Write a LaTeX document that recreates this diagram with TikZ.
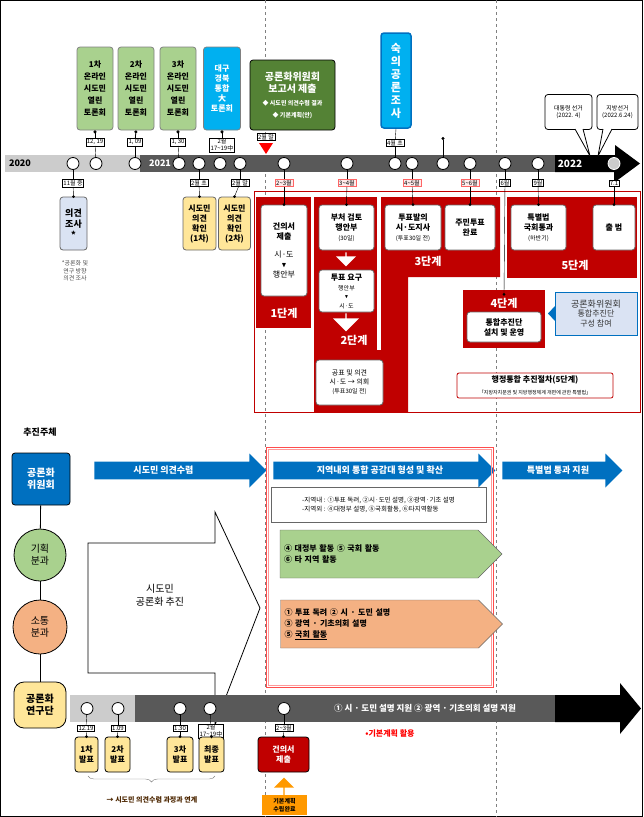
\documentclass[tikz,border=0pt]{standalone}
\usepackage{amssymb}
\usepackage{fontspec}
\setmainfont{Noto Sans CJK KR}
\usetikzlibrary{arrows.meta,shapes,positioning,decorations.pathreplacing}
\definecolor{gbox}{HTML}{A9D18E}
\definecolor{dgreen}{HTML}{548235}
\definecolor{sky}{HTML}{00B0F0}
\definecolor{lblue}{HTML}{DAE3F3}
\definecolor{ybox}{HTML}{FFE699}
\definecolor{stred}{HTML}{C00000}
\definecolor{mblue}{HTML}{0070C0}
\definecolor{orng}{HTML}{F4B183}
\definecolor{bargray}{HTML}{595959}
\tikzset{box/.style={draw, thick, rounded corners=3pt, align=center, inner sep=1pt, font=\bfseries\fontsize{8}{10}\selectfont},
	wbox/.style={box, fill=white, draw=black!60},
	tag/.style={draw, fill=white, inner sep=1pt, font=\fontsize{6}{7}\selectfont, align=center},
	rtag/.style={tag, draw=red!60, fill=red!8},
	dot/.style={draw, thick, fill=white, circle, minimum size=12pt, inner sep=0pt},
	pin/.style={thick, {Circle[length=3pt]}-},
	stage/.style={fill=stred, draw=none},
	stlabel/.style={text=white, font=\bfseries\fontsize{11}{12}\selectfont},
	barrow/.style={single arrow, fill=mblue, text=white, single arrow head extend=5pt, minimum height=#1, minimum width=34pt, font=\bfseries\fontsize{9}{10}\selectfont, inner sep=1pt},
	penta/.style={signal, signal to=east, draw=black!60, align=left, font=\bfseries\fontsize{8}{11}\selectfont, inner sep=4pt}}
\begin{document}
\begin{tikzpicture}[x=1pt,y=-1pt]
	\useasboundingbox (0,0) rectangle (643,817);
	\draw[black] (0.5,0.5) rectangle (642.5,816.5);
	% dashed guides
	\draw[dashed, gray] (265,0) -- (265,817);
	\draw[dashed, gray] (496,0) -- (496,817);
	% top timeline
	\fill[black!20] (5,155) rectangle (140,172);
	\fill[bargray] (140,155) rectangle (555,172);
	\fill[black] (555,155) -- (615,155) -- (615,145) -- (640,163.5) -- (615,182) -- (615,172) -- (555,172) -- cycle;
	\node[font=\bfseries\fontsize{9}{10}\selectfont] at (20,163.5) {2020};
	\node[text=white, font=\bfseries\fontsize{9}{10}\selectfont] at (160,163.5) {2021};
	\node[text=white, font=\bfseries\fontsize{10}{10}\selectfont] at (570,163.5) {2022};
	\foreach \n/\x in {a/73,b/96,c/135,d/179,e/199,f/220,g/240,h/284,i/347,j/395,k/412,l/443,m/470,n/505,o/538}
		\node[dot] (t\n) at (\x,163.5) {};
	\node[dot, fill=black!20, draw=white] (tp) at (614,163.5) {};
	% upper boxes
	\node[box, fill=gbox, draw=black!50, minimum width=36, minimum height=83] (on1) at (95,88.5) {1차\\[2pt]온라인\\[2pt]시도민\\[2pt]열린\\[2pt]토론회};
	\node[box, fill=gbox, draw=black!50, minimum width=36, minimum height=83] (on2) at (136,88.5) {2차\\[2pt]온라인\\[2pt]시도민\\[2pt]열린\\[2pt]토론회};
	\node[box, fill=gbox, draw=black!50, minimum width=36, minimum height=83] (on3) at (178,88.5) {3차\\[2pt]온라인\\[2pt]시도민\\[2pt]열린\\[2pt]토론회};
	\node[box, fill=sky, draw=black!50, text=white, minimum width=37, minimum height=83] (big) at (222,88.5) {대구\\경북\\통합\\大\\토론회};
	\node[tag] (d1) at (95,142) {12, 19};
	\node[tag] (d2) at (135,142) {1, 09};
	\node[tag] (d3) at (178,142) {1, 30};
	\node[tag] (d4) at (222,145) {2월\\17\textasciitilde19中};
	\draw[pin] (on1.south) -- (d1); \draw (d1) -- (tb);
	\draw[pin] (on2.south) -- (d2); \draw (d2) -- (tc);
	\draw[pin] (on3.south) -- (d3); \draw (d3) -- (td);
	\draw[pin] (big.south) -- (d4);
	\node[box, fill=dgreen, text=white, draw=black, minimum width=85, minimum height=70, font=\bfseries\fontsize{10}{12}\selectfont] (rep) at (292.5,95) {공론화위원회\\보고서 제출\\[1pt]\fontsize{6}{7}\selectfont ◆ 시도민 의견수렴 결과\\\fontsize{6}{7}\selectfont ◆ 기본계획(안)};
	\node[tag] (d5) at (266,137) {2월 말};
	\fill[red] (259,143) -- (273,143) -- (266,154) -- cycle;
	\node[box, fill=sky, text=white, draw=mblue, line width=1.5pt, minimum width=30, minimum height=95, font=\bfseries\fontsize{11}{13}\selectfont] (sug) at (396,80.5) {숙\\의\\공\\론\\조\\사};
	\node[tag] (d6) at (395,143) {4월 초};
	\draw (sug.south) -- (d6); \draw (d6) -- (tj);
	\coordinate (pintop) at (443,137);
	\draw[pin] (pintop) -- (tl);
	\node[box, fill=white, draw=black, font=\fontsize{6}{7}\selectfont, minimum width=47, minimum height=35] (pres) at (568.5,112) {대통령 선거\\(2022. 4)};
	\node[box, fill=white, draw=black, font=\fontsize{6}{7}\selectfont, minimum width=41, minimum height=35] (loc) at (617.5,112) {지방선거\\(2022.6.24)};
	\draw[thick, fill=white] (575,129) -- (590,156) -- (583,129);
	\draw[thick, fill=white] (603,129) -- (598,156) -- (612,129);
	% lower tags
	\node[tag] (l1) at (73,183) {11월 중};
	\node[tag] (l2) at (199,183) {2월 초};
	\node[tag] (l3) at (240,183) {2월 말};
	\node[rtag] (l4) at (284,183) {2\textasciitilde3월};
	\node[rtag] (l5) at (347,183) {3\textasciitilde4월};
	\node[rtag] (l6) at (412,183) {4\textasciitilde5월};
	\node[rtag] (l7) at (470,183) {5\textasciitilde6월};
	\node[tag] (l8) at (505,183) {6월};
	\node[tag] (l9) at (538,183) {9월};
	\node[tag] (l10) at (614,183) {7.1};
	\node[box, fill=lblue, draw=black!60, minimum width=27, minimum height=53, font=\bfseries\fontsize{9}{11}\selectfont] (opin) at (73.5,223.5) {의견\\조사\\*};
	\node[align=center, font=\fontsize{6}{7.5}\selectfont, text=black!70] (note) at (75,271) {*공론화 및\\연구 방향\\의견 조사};
	\node[box, fill=ybox, draw=black!60, minimum width=33, minimum height=53] (chk1) at (199.5,223.5) {시도민\\의견\\확인\\(1차)};
	\node[box, fill=ybox, draw=black!60, minimum width=32, minimum height=53] (chk2) at (234.5,223.5) {시도민\\의견\\확인\\(2차)};
	% stage area
	\draw[stred, thick] (254,191) rectangle (640,412);
	\fill[stage] (256,197) rectangle (311,328);
	\fill[stage] (314,197) rectangle (377,350);
	\fill[stage] (314,350) rectangle (408,412);
	\fill[stage] (381,197) -- (500,197) -- (500,277) -- (408,277) -- (408,412) -- (381,412) -- cycle;
	\fill[stage] (463,290) rectangle (545,348);
	\fill[stage] (507,197) rectangle (637,278);
	\node[wbox, minimum width=46, minimum height=91] (s1) at (284,250.5) {건의서\\제출\\[8pt]\mdseries 시·도\\\scriptsize$\blacktriangledown$\\\mdseries 행안부};
	\node[stlabel] at (284,313) {1단계};
	\node[wbox, minimum width=55, minimum height=45] (s2a) at (346.5,227.5) {부처 검토\\행안부\\\mdseries\fontsize{6}{7}\selectfont(30일)};
	\node[wbox, minimum width=55, minimum height=42] (s2b) at (346.5,291) {투표 요구\\\mdseries\fontsize{6}{7}\selectfont 행안부\\[-2pt]\tiny$\blacktriangledown$\\\mdseries\fontsize{6}{7}\selectfont 시·도};
	\node[single arrow, shape border rotate=270, fill=white, minimum height=14, minimum width=20, inner sep=0pt, single arrow head extend=3pt] (ar1) at (346,259) {};
	\node[single arrow, shape border rotate=270, fill=white, minimum height=18, minimum width=26, inner sep=0pt, single arrow head extend=4pt] (ar2) at (346,322) {};
	\node[stlabel] at (354,340) {2단계};
	\node[wbox, font=\fontsize{7}{9}\selectfont, minimum width=67, minimum height=45] (pub) at (349.5,382.5) {공표 및 의견\\시·도 → 의회\\\fontsize{6}{7}\selectfont(투표30일 전)};
	\node[wbox, minimum width=56, minimum height=45] (s3a) at (413,227.5) {투표발의\\시·도지사\\\mdseries\fontsize{6}{7}\selectfont(투표30일 전)};
	\node[wbox, minimum width=50, minimum height=45] (s3b) at (470,227.5) {주민투표\\완료};
	\node[stlabel] at (428,261) {3단계};
	\node[stlabel] (st4) at (504,303) {4단계};
	\node[wbox, minimum width=74, minimum height=30] (s4) at (504,327) {통합추진단\\설치 및 운영};
	\node[wbox, minimum width=55, minimum height=45] (s5a) at (538.5,227.5) {특별법\\국회통과\\\mdseries\fontsize{6}{7}\selectfont(하반기)};
	\node[wbox, minimum width=42, minimum height=45] (s5b) at (614,227.5) {출 범};
	\node[stlabel] at (575,265) {5단계};
	\draw[thick, mblue, fill=lblue] (555,292) rectangle (637,335);
	\fill[mblue] (555,306) -- (548,313.5) -- (555,321) -- cycle;
	\node[align=center, font=\fontsize{8}{9.5}\selectfont, text=black!80] (comm) at (596,313.5) {\fontsize{9}{10}\selectfont 공론화위원회\\\fontsize{8}{9.5}\selectfont 통합추진단\\구성 참여};
	\node[draw=stred, thick, fill=white, rounded corners=2pt, minimum width=156, minimum height=25, align=center, inner sep=1pt] (proc) at (535,385.5) {\bfseries\fontsize{8}{9}\selectfont 행정통합 추진절차(5단계)\\\mdseries\fontsize{5}{6}\selectfont 「지방자치분권 및 지방행정체계 개편에 관한 특별법」};
	\draw (ta) -- (l1); \draw (l1) -- (opin.north); \fill (opin.north) circle (1.5);
	\draw (te) -- (l2); \draw (l2) -- (chk1.north); \fill (chk1.north) circle (1.5);
	\draw (tg) -- (l3); \draw (l3) -- (chk2.north); \fill (chk2.north) circle (1.5);
	\draw (th) -- (l4); \draw (l4) -- (s1.north); \fill (s1.north) circle (1.5);
	\draw (ti) -- (l5); \draw (l5) -- (s2a.north); \fill (s2a.north) circle (1.5);
	\draw (tk) -- (l6); \draw (l6) -- (s3a.north); \fill (s3a.north) circle (1.5);
	\draw (tm) -- (l7); \draw (l7) -- (s3b.north); \fill (s3b.north) circle (1.5);
	\draw (tn) -- (l8); \draw (l8) -- (st4.north); \fill (st4.north) circle (1.5);
	\draw (to) -- (l9); \draw (l9) -- (s5a.north); \fill (s5a.north) circle (1.5);
	\draw (tp) -- (l10); \draw (l10) -- (s5b.north); \fill (s5b.north) circle (1.5);
	% lower part
	\node[font=\bfseries\fontsize{9}{10}\selectfont] (who) at (40,432) {추진주체};
	\node[box, fill=mblue, text=white, draw=black, minimum width=58, minimum height=52, font=\bfseries\fontsize{10}{12}\selectfont] (com) at (41,479) {공론화\\위원회};
	\node[circle, draw=black, thick, fill=gbox, minimum size=52, inner sep=0pt, align=center, font=\fontsize{10}{12}\selectfont] (plan) at (40,555) {기획\\분과};
	\node[circle, draw=black, thick, fill=orng, minimum size=54, inner sep=0pt, align=center, font=\fontsize{10}{12}\selectfont] (talk) at (40,627) {소통\\분과};
	\node[box, fill=ybox, draw=black, rounded corners=10pt, minimum width=52, minimum height=46, font=\bfseries\fontsize{10}{12}\selectfont] (lab) at (40,705) {공론화\\연구단};
	\draw[thick] (com) -- (plan); \draw[thick] (plan) -- (talk); \draw[thick] (talk) -- (lab);
	\node[barrow=172] (ar3) at (176,470.5) {\hspace{-25pt}시도민 의견수렴};
	\node[barrow=222] (ar4) at (380,470.5) {지역내외 통합 공감대 형성 및 확산};
	\node[barrow=120] (ar5) at (558,470.5) {특별법 통과 지원\hspace{10pt}};
	\draw[red!70, thick] (266,447) rectangle (493,687);
	\draw[red!40] (268,449) rectangle (491,685);
	\node[draw=black!60, fill=white, minimum width=215, minimum height=35, align=left, font=\fontsize{6.5}{9}\selectfont] (inout) at (378.5,504.5) {-지역내 : ①투표 독려, ②시·도민 설명, ③광역·기초 설명\\-지역외 : ④대정부 설명, ⑤국회활동, ⑥타지역활동};
	\node[penta, fill=gbox, minimum width=218, minimum height=48, text width=190] (gp) at (379,554) {④ 대정부 활동 ⑤ 국회 활동\\⑥ 타 지역 활동};
	\node[penta, fill=orng, minimum width=217, minimum height=48, text width=190] (op) at (379.5,624) {① 투표 독려 ② 시 · 도민 설명\\③ 광역 · 기초의회 설명\\⑤ \underline{국회 활동}};
	\draw[thick, fill=white] (88,543) -- (215,543) -- (215,512) -- (260,608) -- (215,725) -- (215,673) -- (88,673) -- cycle;
	\node[align=center, font=\fontsize{10}{13}\selectfont] (push) at (160,595) {시도민\\공론화 추진};
	% bottom timeline
	\fill[black!20] (70,695) rectangle (135,722);
	\fill[bargray] (135,695) rectangle (555,722);
	\fill[black] (555,695) -- (620,695) -- (620,683) -- (641,708.5) -- (620,734) -- (620,722) -- (555,722) -- cycle;
	\foreach \n/\x in {a/87,b/118,c/180,d/210,e/284}
		\node[dot] (b\n) at (\x,708.5) {};
	\node[text=white, font=\bfseries\fontsize{8.5}{10}\selectfont] at (425,708.5) {① 시 · 도민 설명 지원 ② 광역 · 기초의회 설명 지원};
	\node[text=red, font=\bfseries\fontsize{8}{10}\selectfont] at (390,733) {•기본계획 활용};
	\node[tag] (m1) at (86,728) {12.19};
	\node[tag] (m2) at (118,728) {1.09};
	\node[tag] (m3) at (180,728) {1.30};
	\node[tag] (m4) at (211,731) {2월\\17\textasciitilde19中};
	\node[tag] (m5) at (284,728) {2\textasciitilde3월};
	\node[box, fill=ybox, draw=black, minimum width=23, minimum height=35] (y1) at (86.5,754.5) {1차\\발표};
	\node[box, fill=ybox, draw=black, minimum width=25, minimum height=35] (y2) at (117.5,754.5) {2차\\발표};
	\node[box, fill=ybox, draw=black, minimum width=26, minimum height=35] (y3) at (180,754.5) {3차\\발표};
	\node[box, fill=ybox, draw=black, minimum width=25, minimum height=35] (y4) at (211.5,754.5) {최종\\발표};
	\node[box, fill=stred, text=white, draw=black, minimum width=51, minimum height=35] (y5) at (283.5,754.5) {건의서\\제출};
	\foreach \i/\j in {a/1,b/2,c/3,d/4,e/5} {
		\draw (b\i) -- (m\j); \draw (m\j) -- (y\j.north); \fill (y\j.north) circle (1.5);}
	\draw[decorate, decoration={brace, mirror, amplitude=6pt}, gray] (88,776) -- (215,776);
	\node[text=black!70!orange, font=\bfseries\fontsize{7}{8}\selectfont] (link) at (152,800) {→ 시도민 의견수렴 과정과 연계};
	\node[box, fill=orange!80!yellow, draw=none, rounded corners=0pt, minimum width=45, minimum height=20, font=\bfseries\fontsize{6}{7.5}\selectfont] (base) at (284.5,805) {기본계획\\수립완료};
	\node[single arrow, shape border rotate=90, fill=orange!80!yellow, minimum height=18, minimum width=20, inner sep=0pt, single arrow head extend=3pt] (ar6) at (284,787) {};
\end{tikzpicture}
\end{document}
